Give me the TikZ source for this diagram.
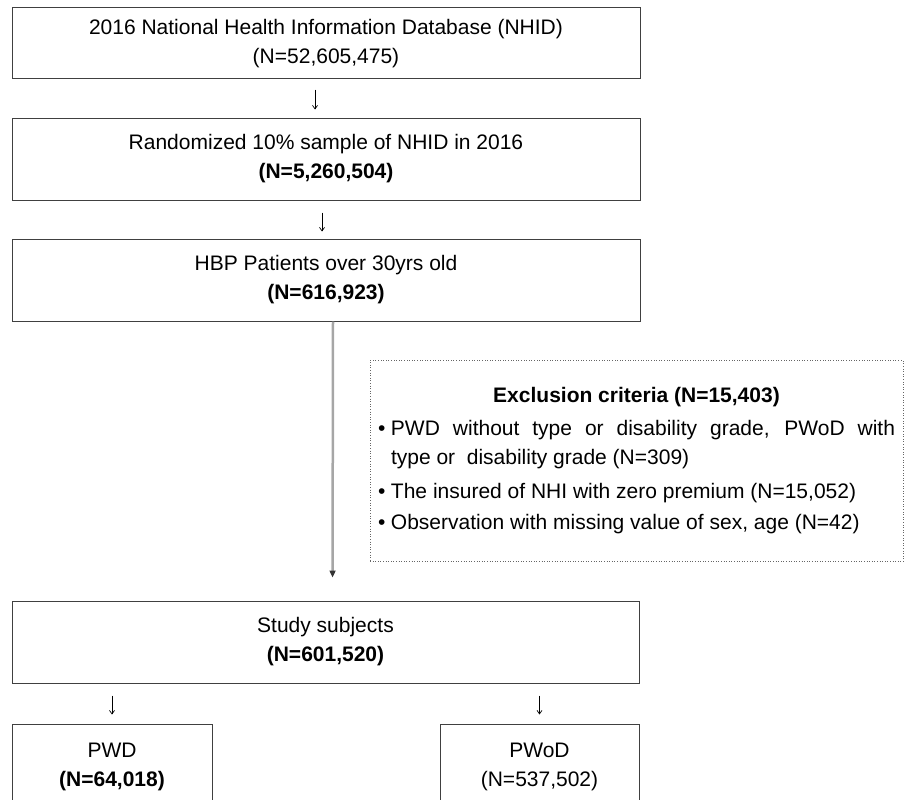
\documentclass[tikz,border=0pt]{standalone}
\usepackage{fontspec}
\setmainfont{Liberation Sans}
\usetikzlibrary{arrows.meta}

\newcommand{\nbold}[1]{{\bfseries #1}}
\newcommand{\bul}{\noindent\makebox[13pt][l]{•}}

\begin{document}
\begin{tikzpicture}[x=1pt,y=-1pt]
  \tikzstyle{box}=[draw=black!75, line width=1pt, align=center, inner sep=0pt, minimum height=82pt, font=\fontsize{21}{29}\selectfont]
  \tikzstyle{thin}=[-{Straight Barb[length=3.5pt,width=5pt]}, line width=0.7pt]
  \tikzstyle{long}=[-{Triangle[length=7pt,width=6pt,color=black!80]}, gray!70, line width=2.5pt]

  \useasboundingbox (0,0) rectangle (905,800);
  \node[box, minimum width=628pt, minimum height=71pt] (A) at (326,43.5) {2016 National Health Information Database (NHID)\\(N=52,605,475)};
  \node[box, minimum width=628pt] (B) at (326,159) {Randomized 10\% sample of NHID in 2016\\\nbold{(N=5,260,504)}};
  \node[box, minimum width=628pt] (C) at (326,280) {HBP Patients over 30yrs old\\\nbold{(N=616,923)}};
  \node[draw=black!60, dotted, line width=0.6pt, minimum width=533pt, minimum height=201pt, inner sep=0pt,
        text width=517pt, align=justify, font=\fontsize{21}{29}\selectfont] (X) at (636.5,461) {%
    {\centering\bfseries Exclusion criteria (N=15,403)\par}
    \vspace{4pt}
    \hangindent=13pt\hangafter=1
    \bul PWD without type or disability grade, PWoD with\linebreak type or\ \ disability grade (N=309)\par
    \vspace{5pt}
    \bul The insured of NHI with zero premium (N=15,052)\\[2pt]
    \bul Observation with missing value of sex, age (N=42)}; % Exclusion box
  \node[box, minimum width=627pt] (D) at (325.5,642) {Study subjects\\\nbold{(N=601,520)}};
  \node[box, minimum width=200pt, minimum height=86pt] (E) at (112,767) {PWD\\\nbold{(N=64,018)}};
  \node[box, minimum width=199pt, minimum height=86pt] (F) at (539.5,767) {PWoD\\(N=537,502)};

  \draw[thin, shorten <=10pt, shorten >=8pt] ([xshift=-11pt]A.south) -- ([xshift=-11pt]B.north);
  \draw[thin, shorten <=12pt, shorten >=7pt] ([xshift=-4pt]B.south) -- ([xshift=-4pt]C.north);
  \draw[long, shorten >=23pt] ([xshift=7pt]C.south) -- ([xshift=7pt]D.north); % Main arrow
  \draw[thin, shorten <=12pt, shorten >=9pt] (D.south -| E.north) -- (E.north);
  \draw[thin, shorten <=12pt, shorten >=9pt] (D.south -| F.north) -- (F.north);
\end{tikzpicture}
\end{document}
